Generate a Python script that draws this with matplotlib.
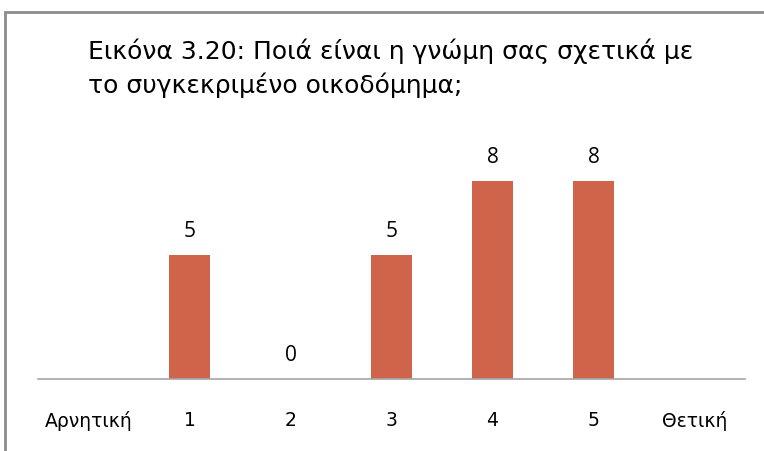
import matplotlib
matplotlib.use("Agg")
import matplotlib.pyplot as plt
from matplotlib.patches import Rectangle

categories = ["Αρνητική", "1", "2", "3", "4", "5", "Θετική"]
values = [None, 5, 0, 5, 8, 8, None]
title = "Εικόνα 3.20: Ποιά είναι η γνώμη σας σχετικά με\nτο συγκεκριμένο οικοδόμημα;"

bar_color = "#D0644A"

fig = plt.figure(figsize=(7.64, 4.52), dpi=100)
ax = fig.add_axes([38 / 764, 72 / 452, 707 / 764, 247.5 / 452])

# outer chart frame (right and bottom run off the image)
fig.patches.append(Rectangle((5 / 764, -0.1), 1.2, (452 - 13) / 452 + 0.1,
                             transform=fig.transFigure, fill=False,
                             edgecolor="#8c8c8c", linewidth=2))

xs = list(range(len(categories)))
for x, v in zip(xs, values):
    if v is None:
        continue
    ax.bar(x, v, width=0.4, color=bar_color)
    ax.text(x, v + 1.0, str(v), ha="center", va="center", fontsize=15,
            family="Open Sans", color="black")

ax.set_xlim(-0.5, len(categories) - 0.5)
ax.set_ylim(0, 10)
ax.set_xticks(xs)
ax.set_xticklabels(categories, fontsize=13.5, family="DejaVu Sans")
ax.tick_params(axis="x", length=0, pad=22)
ax.set_yticks([])
for side in ["top", "right", "left"]:
    ax.spines[side].set_visible(False)
ax.spines["bottom"].set_color("#a6a6a6")
ax.spines["bottom"].set_linewidth(1.2)

fig.text(88 / 764, 1 - 39 / 452, title, ha="left", va="top", fontsize=18,
         family="DejaVu Sans", linespacing=1.4)

fig.savefig("out.png", dpi=100)
